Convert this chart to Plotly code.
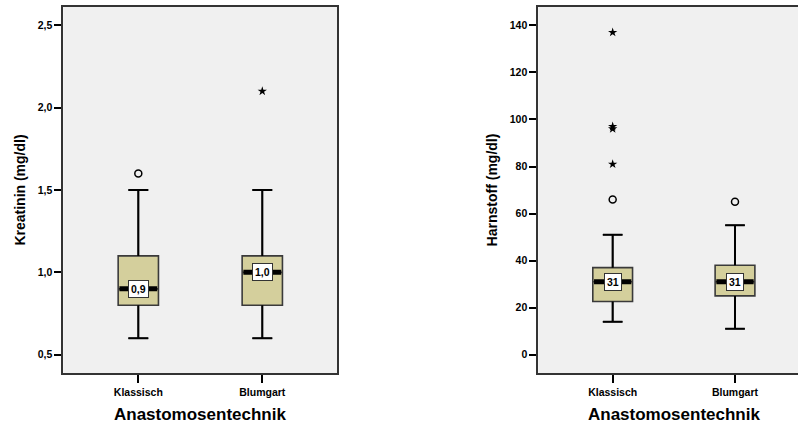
import plotly.graph_objects as go

categories = ["Klassisch", "Blumgart"]

# Kreatinin (mg/dl)
krea_q1 = [0.8, 0.8]
krea_median = [0.9, 1.0]
krea_q3 = [1.1, 1.1]
krea_low = [0.6, 0.6]
krea_high = [1.5, 1.5]
krea_out_circle = [[1.6], []]
krea_out_star = [[], [2.1]]

# Harnstoff (mg/dl)
harn_q1 = [22.6, 25]
harn_median = [31, 31]
harn_q3 = [37, 38]
harn_low = [14, 11]
harn_high = [51, 55]
harn_out_circle = [[66], [65]]
harn_out_star = [[81, 96, 97, 137], []]

FONT = "Liberation Sans, Arial, sans-serif"
BOX_FILL = "#d4cf9c"
BOX_W = 0.325
CAP_W = 0.16

fig = go.Figure()


def add_panel(xa, ya, q1, med, q3, low, high, oc, os_, fmt):
    for i, c in enumerate(categories):
        fig.add_trace(go.Box(
            x=[i], q1=[q1[i]], median=[med[i]], q3=[q3[i]],
            lowerfence=[low[i]], upperfence=[high[i]],
            width=BOX_W, whiskerwidth=0.5, boxpoints=False,
            fillcolor=BOX_FILL, line=dict(color="#3a3a3a", width=1.6),
            xaxis=xa, yaxis=ya, showlegend=False, name=c, hoverinfo="skip"))
        # whiskers + caps (black)
        wx = [i, i, None, i, i, None, i - CAP_W / 2, i + CAP_W / 2, None,
              i - CAP_W / 2, i + CAP_W / 2]
        wy = [low[i], q1[i], None, q3[i], high[i], None, low[i], low[i], None,
              high[i], high[i]]
        fig.add_trace(go.Scatter(x=wx, y=wy, mode="lines",
                                 line=dict(color="black", width=2),
                                 xaxis=xa, yaxis=ya, showlegend=False,
                                 hoverinfo="skip"))
        # thick median line
        fig.add_trace(go.Scatter(x=[i - BOX_W / 2 + 0.01, i + BOX_W / 2 - 0.01],
                                 y=[med[i], med[i]], mode="lines",
                                 line=dict(color="black", width=5),
                                 xaxis=xa, yaxis=ya, showlegend=False,
                                 hoverinfo="skip"))
        if oc[i]:
            fig.add_trace(go.Scatter(x=[i] * len(oc[i]), y=oc[i], mode="markers",
                                     marker=dict(symbol="circle-open", size=7,
                                                 color="black",
                                                 line=dict(width=1.5)),
                                     xaxis=xa, yaxis=ya, showlegend=False))
        if os_[i]:
            fig.add_trace(go.Scatter(x=[i] * len(os_[i]), y=os_[i], mode="markers",
                                     marker=dict(symbol="star", size=7,
                                                 color="black"),
                                     xaxis=xa, yaxis=ya, showlegend=False))
        fig.add_annotation(x=i, y=med[i], xref=xa, yref=ya,
                           text=format(med[i], fmt).replace(".", ","),
                           showarrow=False, bgcolor="white",
                           bordercolor="#333", borderwidth=1, borderpad=2,
                           font=dict(family=FONT, size=10.5, color="black",
                                     weight="bold"))


add_panel("x", "y", krea_q1, krea_median, krea_q3, krea_low, krea_high,
          krea_out_circle, krea_out_star, ".1f")
add_panel("x2", "y2", harn_q1, harn_median, harn_q3, harn_low, harn_high,
          harn_out_circle, harn_out_star, ".0f")

tickfont = dict(family=FONT, size=10.5, color="black", weight="bold")
titlefont = dict(family=FONT, size=14, color="black", weight="bold")

common_x = dict(tickmode="array", tickvals=[0, 1], ticktext=categories,
                ticks="outside", ticklen=8, tickwidth=1.5, tickcolor="black",
                tickfont=tickfont, showgrid=False, zeroline=False,
                showline=True, linecolor="#333", linewidth=1.8, mirror=True)
common_y = dict(ticks="outside", ticklen=7, tickwidth=1.5, tickcolor="black",
                tickfont=tickfont, showgrid=False, zeroline=False,
                showline=True, linecolor="#333", linewidth=1.8,
                title_standoff=9)

fig.update_layout(
    width=798, height=425,
    margin=dict(l=0, r=0, t=7, b=52),
    paper_bgcolor="white", plot_bgcolor="#f0f0f0",
    separators=",.",
    xaxis=dict(domain=[63.3 / 798, 337.3 / 798], range=[-0.605, 1.605],
               **common_x),
    yaxis=dict(range=[0.389, 2.611], tickvals=[0.5, 1.0, 1.5, 2.0, 2.5],
               tickformat=".1f", mirror=True,
               title=dict(text="Kreatinin (mg/dl)", font=titlefont),
               **common_y),
    xaxis2=dict(domain=[538.3 / 798, 1.0], range=[-0.608, 1.515],
                anchor="y2", **common_x),
    yaxis2=dict(range=[-7.78, 147.8], tickvals=list(range(0, 141, 20)),
                anchor="x2", mirror=False,
                title=dict(text="Harnstoff (mg/dl)", font=titlefont),
                **common_y),
)

for xr in ["x", "x2"]:
    fig.add_annotation(x=0.5, xref=xr, y=-0.114, yref="paper",
                       text="Anastomosentechnik", showarrow=False,
                       xanchor="center", yanchor="middle",
                       font=dict(family=FONT, size=17, color="black",
                                 weight="bold"))

fig.write_html("out.html",
               config={"displayModeBar": False},
               post_script="document.body.style.margin='0px';"
                           "document.body.style.overflow='hidden';")
